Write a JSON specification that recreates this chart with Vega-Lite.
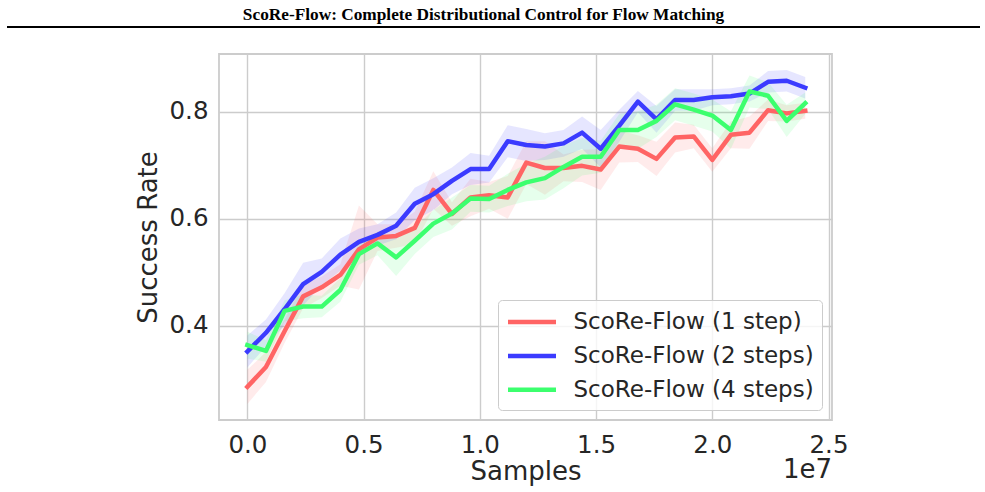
{
  "$schema": "https://vega.github.io/schema/vega-lite/v6.json",
  "background": "white",
  "padding": {"left": 6, "right": 6, "top": 5, "bottom": 0},
  "title": {"text": "ScoRe-Flow: Complete Distributional Control for Flow Matching", "font": "Liberation Serif", "fontSize": 17.3, "fontWeight": "bold", "color": "black", "anchor": "middle", "dx": -10, "offset": 3},
  "spacing": 25,
  "vconcat": [
    {
      "width": 761,
      "height": 2,
      "data": {"values": [{}]},
      "mark": {"type": "rule", "color": "black", "strokeWidth": 2},
      "encoding": {
        "y": {"datum": 0, "type": "quantitative", "scale": {"domain": [-1, 1]}, "axis": {"values": [0], "orient": "left", "translate": 0, "ticks": true, "tickSize": 212, "tickWidth": 2, "tickColor": "black", "labels": false, "domain": false, "grid": false, "title": null, "minExtent": 212, "maxExtent": 212}}
      }
    },
    {
      "width": 613,
      "height": 366,
      "view": {"stroke": "#cccccc", "strokeWidth": 1.8},
      "title": {"text": "1e7", "orient": "bottom", "anchor": "end", "frame": "group", "font": "DejaVu Sans", "fontSize": 26, "fontWeight": "normal", "color": "#262626", "offset": -28},
      "data": {"values": [
        {"series": "ScoRe-Flow (1 step)", "samples": 0, "rate": 0.286, "lo": 0.254, "hi": 0.318},
        {"series": "ScoRe-Flow (1 step)", "samples": 800000, "rate": 0.323, "lo": 0.295, "hi": 0.351},
        {"series": "ScoRe-Flow (1 step)", "samples": 1600000, "rate": 0.390, "lo": 0.368, "hi": 0.412},
        {"series": "ScoRe-Flow (1 step)", "samples": 2400000, "rate": 0.455, "lo": 0.433, "hi": 0.477},
        {"series": "ScoRe-Flow (1 step)", "samples": 3200000, "rate": 0.472, "lo": 0.452, "hi": 0.492},
        {"series": "ScoRe-Flow (1 step)", "samples": 4000000, "rate": 0.495, "lo": 0.475, "hi": 0.515},
        {"series": "ScoRe-Flow (1 step)", "samples": 4800000, "rate": 0.543, "lo": 0.468, "hi": 0.625},
        {"series": "ScoRe-Flow (1 step)", "samples": 5600000, "rate": 0.565, "lo": 0.540, "hi": 0.590},
        {"series": "ScoRe-Flow (1 step)", "samples": 6400000, "rate": 0.568, "lo": 0.546, "hi": 0.590},
        {"series": "ScoRe-Flow (1 step)", "samples": 7200000, "rate": 0.583, "lo": 0.553, "hi": 0.613},
        {"series": "ScoRe-Flow (1 step)", "samples": 8000000, "rate": 0.654, "lo": 0.619, "hi": 0.689},
        {"series": "ScoRe-Flow (1 step)", "samples": 8800000, "rate": 0.609, "lo": 0.587, "hi": 0.631},
        {"series": "ScoRe-Flow (1 step)", "samples": 9600000, "rate": 0.640, "lo": 0.605, "hi": 0.675},
        {"series": "ScoRe-Flow (1 step)", "samples": 10400000, "rate": 0.644, "lo": 0.619, "hi": 0.669},
        {"series": "ScoRe-Flow (1 step)", "samples": 11200000, "rate": 0.640, "lo": 0.600, "hi": 0.680},
        {"series": "ScoRe-Flow (1 step)", "samples": 12000000, "rate": 0.705, "lo": 0.665, "hi": 0.745},
        {"series": "ScoRe-Flow (1 step)", "samples": 12800000, "rate": 0.695, "lo": 0.645, "hi": 0.745},
        {"series": "ScoRe-Flow (1 step)", "samples": 13600000, "rate": 0.695, "lo": 0.670, "hi": 0.720},
        {"series": "ScoRe-Flow (1 step)", "samples": 14400000, "rate": 0.699, "lo": 0.669, "hi": 0.729},
        {"series": "ScoRe-Flow (1 step)", "samples": 15200000, "rate": 0.692, "lo": 0.654, "hi": 0.730},
        {"series": "ScoRe-Flow (1 step)", "samples": 16000000, "rate": 0.735, "lo": 0.705, "hi": 0.765},
        {"series": "ScoRe-Flow (1 step)", "samples": 16800000, "rate": 0.731, "lo": 0.706, "hi": 0.756},
        {"series": "ScoRe-Flow (1 step)", "samples": 17600000, "rate": 0.712, "lo": 0.680, "hi": 0.744},
        {"series": "ScoRe-Flow (1 step)", "samples": 18400000, "rate": 0.752, "lo": 0.724, "hi": 0.780},
        {"series": "ScoRe-Flow (1 step)", "samples": 19200000, "rate": 0.754, "lo": 0.732, "hi": 0.776},
        {"series": "ScoRe-Flow (1 step)", "samples": 20000000, "rate": 0.710, "lo": 0.688, "hi": 0.732},
        {"series": "ScoRe-Flow (1 step)", "samples": 20800000, "rate": 0.757, "lo": 0.732, "hi": 0.782},
        {"series": "ScoRe-Flow (1 step)", "samples": 21600000, "rate": 0.761, "lo": 0.731, "hi": 0.791},
        {"series": "ScoRe-Flow (1 step)", "samples": 22400000, "rate": 0.803, "lo": 0.783, "hi": 0.823},
        {"series": "ScoRe-Flow (1 step)", "samples": 23200000, "rate": 0.797, "lo": 0.782, "hi": 0.812},
        {"series": "ScoRe-Flow (1 step)", "samples": 24000000, "rate": 0.802, "lo": 0.787, "hi": 0.817},
        {"series": "ScoRe-Flow (2 steps)", "samples": 0, "rate": 0.352, "lo": 0.322, "hi": 0.382},
        {"series": "ScoRe-Flow (2 steps)", "samples": 800000, "rate": 0.387, "lo": 0.362, "hi": 0.412},
        {"series": "ScoRe-Flow (2 steps)", "samples": 1600000, "rate": 0.431, "lo": 0.401, "hi": 0.461},
        {"series": "ScoRe-Flow (2 steps)", "samples": 2400000, "rate": 0.478, "lo": 0.438, "hi": 0.518},
        {"series": "ScoRe-Flow (2 steps)", "samples": 3200000, "rate": 0.501, "lo": 0.476, "hi": 0.526},
        {"series": "ScoRe-Flow (2 steps)", "samples": 4000000, "rate": 0.533, "lo": 0.503, "hi": 0.563},
        {"series": "ScoRe-Flow (2 steps)", "samples": 4800000, "rate": 0.557, "lo": 0.532, "hi": 0.582},
        {"series": "ScoRe-Flow (2 steps)", "samples": 5600000, "rate": 0.570, "lo": 0.550, "hi": 0.590},
        {"series": "ScoRe-Flow (2 steps)", "samples": 6400000, "rate": 0.587, "lo": 0.562, "hi": 0.612},
        {"series": "ScoRe-Flow (2 steps)", "samples": 7200000, "rate": 0.628, "lo": 0.598, "hi": 0.658},
        {"series": "ScoRe-Flow (2 steps)", "samples": 8000000, "rate": 0.646, "lo": 0.616, "hi": 0.676},
        {"series": "ScoRe-Flow (2 steps)", "samples": 8800000, "rate": 0.671, "lo": 0.646, "hi": 0.696},
        {"series": "ScoRe-Flow (2 steps)", "samples": 9600000, "rate": 0.693, "lo": 0.663, "hi": 0.723},
        {"series": "ScoRe-Flow (2 steps)", "samples": 10400000, "rate": 0.693, "lo": 0.668, "hi": 0.718},
        {"series": "ScoRe-Flow (2 steps)", "samples": 11200000, "rate": 0.745, "lo": 0.715, "hi": 0.775},
        {"series": "ScoRe-Flow (2 steps)", "samples": 12000000, "rate": 0.738, "lo": 0.708, "hi": 0.768},
        {"series": "ScoRe-Flow (2 steps)", "samples": 12800000, "rate": 0.735, "lo": 0.710, "hi": 0.760},
        {"series": "ScoRe-Flow (2 steps)", "samples": 13600000, "rate": 0.741, "lo": 0.716, "hi": 0.766},
        {"series": "ScoRe-Flow (2 steps)", "samples": 14400000, "rate": 0.761, "lo": 0.731, "hi": 0.791},
        {"series": "ScoRe-Flow (2 steps)", "samples": 15200000, "rate": 0.731, "lo": 0.696, "hi": 0.766},
        {"series": "ScoRe-Flow (2 steps)", "samples": 16000000, "rate": 0.774, "lo": 0.744, "hi": 0.804},
        {"series": "ScoRe-Flow (2 steps)", "samples": 16800000, "rate": 0.819, "lo": 0.799, "hi": 0.839},
        {"series": "ScoRe-Flow (2 steps)", "samples": 17600000, "rate": 0.786, "lo": 0.761, "hi": 0.811},
        {"series": "ScoRe-Flow (2 steps)", "samples": 18400000, "rate": 0.822, "lo": 0.802, "hi": 0.842},
        {"series": "ScoRe-Flow (2 steps)", "samples": 19200000, "rate": 0.822, "lo": 0.802, "hi": 0.842},
        {"series": "ScoRe-Flow (2 steps)", "samples": 20000000, "rate": 0.827, "lo": 0.812, "hi": 0.842},
        {"series": "ScoRe-Flow (2 steps)", "samples": 20800000, "rate": 0.829, "lo": 0.814, "hi": 0.844},
        {"series": "ScoRe-Flow (2 steps)", "samples": 21600000, "rate": 0.834, "lo": 0.819, "hi": 0.849},
        {"series": "ScoRe-Flow (2 steps)", "samples": 22400000, "rate": 0.856, "lo": 0.836, "hi": 0.876},
        {"series": "ScoRe-Flow (2 steps)", "samples": 23200000, "rate": 0.858, "lo": 0.838, "hi": 0.878},
        {"series": "ScoRe-Flow (2 steps)", "samples": 24000000, "rate": 0.845, "lo": 0.825, "hi": 0.865},
        {"series": "ScoRe-Flow (4 steps)", "samples": 0, "rate": 0.364, "lo": 0.339, "hi": 0.389},
        {"series": "ScoRe-Flow (4 steps)", "samples": 800000, "rate": 0.353, "lo": 0.333, "hi": 0.373},
        {"series": "ScoRe-Flow (4 steps)", "samples": 1600000, "rate": 0.428, "lo": 0.408, "hi": 0.448},
        {"series": "ScoRe-Flow (4 steps)", "samples": 2400000, "rate": 0.436, "lo": 0.414, "hi": 0.458},
        {"series": "ScoRe-Flow (4 steps)", "samples": 3200000, "rate": 0.436, "lo": 0.416, "hi": 0.456},
        {"series": "ScoRe-Flow (4 steps)", "samples": 4000000, "rate": 0.467, "lo": 0.445, "hi": 0.489},
        {"series": "ScoRe-Flow (4 steps)", "samples": 4800000, "rate": 0.534, "lo": 0.514, "hi": 0.554},
        {"series": "ScoRe-Flow (4 steps)", "samples": 5600000, "rate": 0.554, "lo": 0.532, "hi": 0.576},
        {"series": "ScoRe-Flow (4 steps)", "samples": 6400000, "rate": 0.528, "lo": 0.493, "hi": 0.563},
        {"series": "ScoRe-Flow (4 steps)", "samples": 7200000, "rate": 0.559, "lo": 0.534, "hi": 0.584},
        {"series": "ScoRe-Flow (4 steps)", "samples": 8000000, "rate": 0.591, "lo": 0.566, "hi": 0.616},
        {"series": "ScoRe-Flow (4 steps)", "samples": 8800000, "rate": 0.610, "lo": 0.580, "hi": 0.640},
        {"series": "ScoRe-Flow (4 steps)", "samples": 9600000, "rate": 0.638, "lo": 0.613, "hi": 0.663},
        {"series": "ScoRe-Flow (4 steps)", "samples": 10400000, "rate": 0.637, "lo": 0.612, "hi": 0.662},
        {"series": "ScoRe-Flow (4 steps)", "samples": 11200000, "rate": 0.654, "lo": 0.624, "hi": 0.684},
        {"series": "ScoRe-Flow (4 steps)", "samples": 12000000, "rate": 0.668, "lo": 0.633, "hi": 0.703},
        {"series": "ScoRe-Flow (4 steps)", "samples": 12800000, "rate": 0.676, "lo": 0.636, "hi": 0.716},
        {"series": "ScoRe-Flow (4 steps)", "samples": 13600000, "rate": 0.697, "lo": 0.657, "hi": 0.737},
        {"series": "ScoRe-Flow (4 steps)", "samples": 14400000, "rate": 0.716, "lo": 0.681, "hi": 0.751},
        {"series": "ScoRe-Flow (4 steps)", "samples": 15200000, "rate": 0.716, "lo": 0.686, "hi": 0.746},
        {"series": "ScoRe-Flow (4 steps)", "samples": 16000000, "rate": 0.766, "lo": 0.736, "hi": 0.796},
        {"series": "ScoRe-Flow (4 steps)", "samples": 16800000, "rate": 0.766, "lo": 0.731, "hi": 0.801},
        {"series": "ScoRe-Flow (4 steps)", "samples": 17600000, "rate": 0.783, "lo": 0.753, "hi": 0.813},
        {"series": "ScoRe-Flow (4 steps)", "samples": 18400000, "rate": 0.814, "lo": 0.784, "hi": 0.844},
        {"series": "ScoRe-Flow (4 steps)", "samples": 19200000, "rate": 0.804, "lo": 0.774, "hi": 0.834},
        {"series": "ScoRe-Flow (4 steps)", "samples": 20000000, "rate": 0.793, "lo": 0.763, "hi": 0.823},
        {"series": "ScoRe-Flow (4 steps)", "samples": 20800000, "rate": 0.766, "lo": 0.731, "hi": 0.801},
        {"series": "ScoRe-Flow (4 steps)", "samples": 21600000, "rate": 0.838, "lo": 0.808, "hi": 0.868},
        {"series": "ScoRe-Flow (4 steps)", "samples": 22400000, "rate": 0.830, "lo": 0.805, "hi": 0.855},
        {"series": "ScoRe-Flow (4 steps)", "samples": 23200000, "rate": 0.783, "lo": 0.753, "hi": 0.813},
        {"series": "ScoRe-Flow (4 steps)", "samples": 24000000, "rate": 0.816, "lo": 0.796, "hi": 0.836}
      ]},
      "encoding": {
        "x": {
          "field": "samples", "type": "quantitative",
          "scale": {"domain": [-1220000, 25150000], "nice": false, "zero": false},
          "axis": {"values": [0, 5000000, 10000000, 15000000, 20000000, 25000000], "labelExpr": "format(datum.value / 10000000, '.1f')", "title": "Samples", "grid": true, "labelPadding": 13, "titlePadding": 2, "labelFlush": false, "labelOverlap": false}
        }
      },
      "resolve": {"axis": {"y": "independent"}, "legend": {"color": "independent"}},
      "layer": [
        {
          "mark": {"type": "area", "opacity": 0.13},
          "encoding": {
            "y": {"field": "lo", "type": "quantitative", "scale": {"domain": [0.224, 0.908], "nice": false, "zero": false}, "axis": null},
            "y2": {"field": "hi"},
            "color": {"field": "series", "type": "nominal", "scale": {"domain": ["ScoRe-Flow (1 step)", "ScoRe-Flow (2 steps)", "ScoRe-Flow (4 steps)"], "range": ["#ff6464", "#3b3bff", "#3cff6e"]}, "legend": null}
          }
        },
        {
          "mark": {"type": "line", "strokeWidth": 4.5, "strokeJoin": "round", "strokeCap": "square"},
          "encoding": {
            "y": {"field": "rate", "type": "quantitative", "scale": {"domain": [0.224, 0.908], "nice": false, "zero": false}, "axis": {"orient": "left", "grid": true, "values": [0.4, 0.6, 0.8], "format": ".1f", "title": "Success Rate", "labelPadding": 11, "minExtent": 212, "maxExtent": 212, "titleX": -62.8, "titleY": 183, "titleAngle": -90, "titleAlign": "center", "titleBaseline": "alphabetic"}},
            "color": {"field": "series", "type": "nominal", "scale": {"domain": ["ScoRe-Flow (1 step)", "ScoRe-Flow (2 steps)", "ScoRe-Flow (4 steps)"], "range": ["#ff6464", "#3b3bff", "#3cff6e"]}, "legend": {"title": null}}
          }
        }
      ]
    }
  ],
  "config": {
    "view": {"stroke": null},
    "font": "DejaVu Sans",
    "axis": {"grid": true, "gridColor": "#cccccc", "gridWidth": 1.4, "ticks": false, "domain": false, "labelFont": "DejaVu Sans", "titleFont": "DejaVu Sans", "labelFontSize": 24.5, "titleFontSize": 26, "labelColor": "#262626", "titleColor": "#262626", "titleFontWeight": "normal"},
    "legend": {"orient": "bottom-right", "offset": 10, "symbolType": "M-1,0H3", "symbolSize": 576, "symbolStrokeWidth": 4.5, "labelFont": "DejaVu Sans", "labelFontSize": 23, "labelColor": "#262626", "labelOffset": 39, "rowPadding": 6.9, "padding": 7.5, "cornerRadius": 4, "strokeColor": "#cccccc", "fillColor": "rgba(255,255,255,0.8)", "labelLimit": 400}
  }
}
